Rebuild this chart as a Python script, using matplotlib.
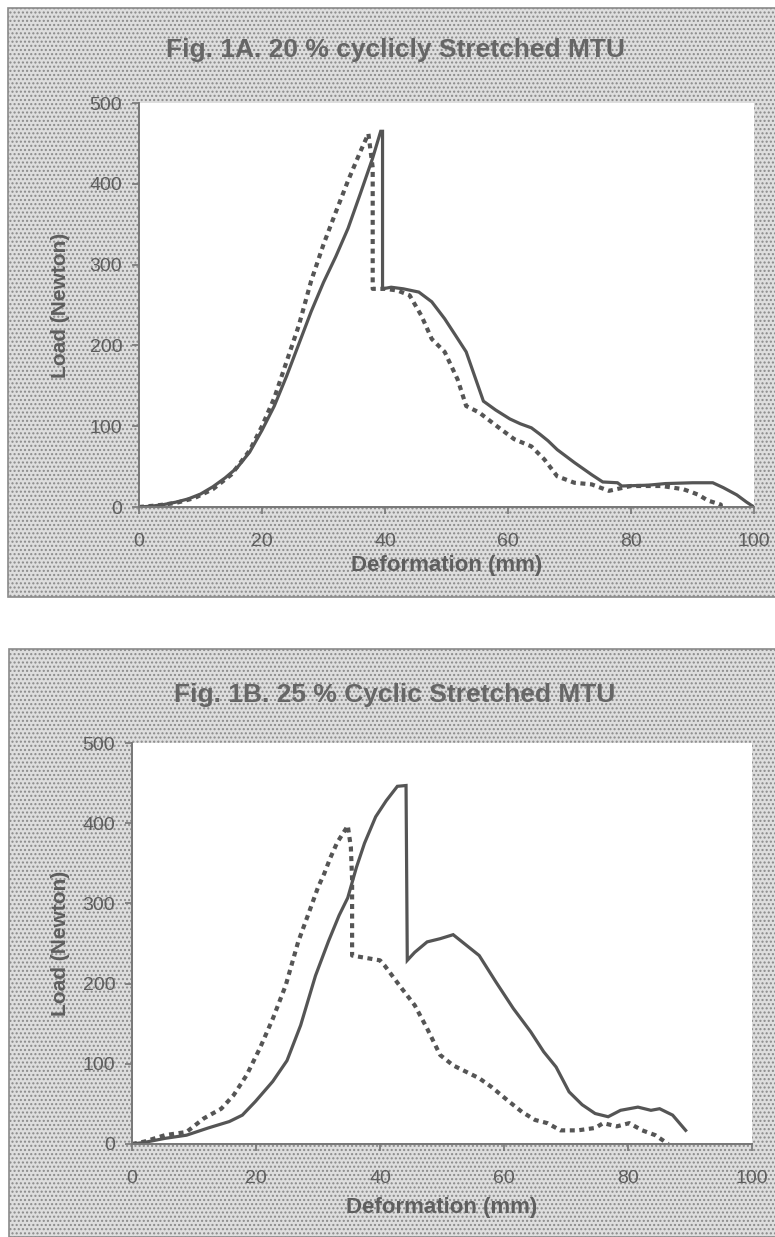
import matplotlib
matplotlib.use("Agg")
import matplotlib.pyplot as plt
from matplotlib.patches import Rectangle

plt.rcParams['font.family'] = ['Liberation Sans', 'DejaVu Sans']
plt.rcParams['hatch.color'] = '#b2b2b2'
plt.rcParams['hatch.linewidth'] = 1.0

# Fig 1A - 20 % cyclicly stretched
a_solid_x = [0, 2, 4, 6, 8, 10, 12, 14, 16, 18, 20, 22, 24, 26, 28, 30, 32, 34, 36, 38, 39.3, 39.6,
             39.6, 41, 43, 45.5, 47.6, 49.7, 51.5, 53.2, 56, 58, 60.3, 62, 63.8, 65.2, 66.5, 68,
             70.8, 73.6, 75.4, 77.8, 78.5, 82.8, 85.6, 90, 93.3, 95, 97.2, 98.8, 100]
a_solid_y = [0, 1, 3, 6, 10, 16, 25, 36, 49, 68, 95, 125, 162, 202, 242, 278, 310, 345, 388, 432, 465, 465,
             270, 272, 270, 266, 254, 233, 212, 192, 131, 120, 109, 103, 98, 90, 82, 71,
             55, 40, 31, 30, 26, 27, 29, 30, 30, 24, 15, 6, 0]
a_dot_x = [0, 3, 6, 9, 12, 15, 18, 20, 22, 24, 26, 28, 30, 32, 34, 36, 37.3, 38, 38, 40, 42, 44,
           45.9, 47.6, 49.7, 51.8, 53.2, 55.3, 58.2, 61, 63.8, 65.9, 68, 70.8, 73.6, 76.4, 80, 85,
           88.5, 90, 91, 92.5, 94.6, 94.6]
a_dot_y = [0, 2, 5, 11, 22, 40, 70, 100, 135, 180, 225, 280, 325, 365, 404, 440, 462, 420, 270, 270, 268, 262,
           237, 208, 192, 158, 125, 117, 100, 84, 75, 59, 38, 30, 28, 20, 26, 26,
           22, 18, 15, 8, 3, 0]

# Fig 1B - 25 % cyclic stretched
b_solid_x = [0, 2, 5.3, 8.8, 12.3, 15.7, 17.8, 19.9, 22.7, 25, 27.2, 29.6, 31.7, 33.4, 34.8, 36.2, 37.5,
             39.3, 41, 42.8, 44.2, 44.4, 45.6, 47.6, 49.7, 51.8, 53.9, 56, 58.7, 61.5, 64.3, 66.4,
             68.4, 70.5, 72.6, 74.7, 76.8, 78.8, 81.6, 83.7, 85.1, 87.2, 89.3]
b_solid_y = [0, 2, 7, 11, 20, 28, 36, 53, 78, 104, 148, 210, 253, 285, 307, 345, 375,
             408, 428, 446, 447, 229, 239, 252, 256, 261, 248, 235, 202, 169, 140, 115,
             96, 65, 49, 38, 34, 42, 46, 42, 44, 36, 17]
b_dot_x = [0, 2, 5.3, 8.8, 11.6, 14.4, 16.4, 18.5, 20.6, 22.7, 24.8, 26.8, 28.6, 30, 31, 32, 33.1, 34.5,
           34.8, 35.3, 35.5, 35.5, 40, 40.7, 43.5, 45.6, 47.6, 49.7, 51.8, 53.9, 56, 58, 60.8,
           62.9, 65, 67, 69.1, 71.9, 74.7, 76, 78.2, 80.2, 82.3, 84.4, 86.5]
b_dot_y = [0, 3, 11, 15, 32, 44, 61, 86, 119, 156, 198, 252, 290, 320, 337, 357, 376, 393,
           397, 370, 330, 235, 229, 223, 194, 173, 144, 111, 98, 90, 82, 71, 53,
           40, 30, 26, 17, 17, 20, 26, 22, 26, 17, 11, 0]

titles = ["Fig. 1A. 20 % cyclicly Stretched MTU", "Fig. 1B. 25 % Cyclic Stretched MTU"]

line_col = '#555555'
axis_col = '#777777'
text_col = '#5e5e5e'

fig = plt.figure(figsize=(7.75, 12.37), dpi=100)
fig.patch.set_facecolor('white')

# gray stippled panel backgrounds, kept behind the axes
for (x0, y0, h) in [(8 / 775, (1237 - 597) / 1237, 589 / 1237), (9 / 775, 0.0, (1237 - 649) / 1237)]:
    fig.patches.append(Rectangle((x0, y0), 1.0, h, transform=fig.transFigure,
                                 facecolor='#dedede', edgecolor='#8a8a8a', hatch='....',
                                 linewidth=1.2, zorder=-5))

axA = fig.add_axes([139 / 775, (1237 - 507) / 1237, 615 / 775, 404 / 1237])
axB = fig.add_axes([132 / 775, (1237 - 1144) / 1237, 620 / 775, 401 / 1237])

panels = [
    (axA, a_solid_x, a_solid_y, a_dot_x, a_dot_y, titles[0], 50, -0.112, -0.119),
    (axB, b_solid_x, b_solid_y, b_dot_x, b_dot_y, titles[1], 695, -0.100, -0.132),
]

for ax, sx, sy, dx, dy, title, ty, ylx, xly in panels:
    ax.set_facecolor('white')
    ax.plot(sx, sy, color=line_col, lw=2.3, solid_joinstyle='miter')
    ax.plot(dx, dy, color=line_col, lw=3.0, linestyle=(0, (1.2, 1.1)), dash_capstyle='butt')
    ax.set_xlim(0, 100)
    ax.set_ylim(0, 500)
    ax.set_xticks([0, 20, 40, 60, 80, 100])
    ax.set_yticks([0, 100, 200, 300, 400, 500])
    for s in ['top', 'right']:
        ax.spines[s].set_visible(False)
    for s in ['left', 'bottom']:
        ax.spines[s].set_color(axis_col)
        ax.spines[s].set_linewidth(1.4)
    ax.tick_params(direction='out', length=5, width=1.2, color=axis_col,
                   labelcolor=text_col, labelsize=14)
    ax.tick_params(axis='x', pad=14)
    ax.tick_params(axis='y', pad=7)
    ax.set_xlabel("Deformation (mm)", fontsize=16, fontweight='bold', color=text_col)
    ax.set_ylabel("Load (Newton)", fontsize=15, fontweight='bold', color=text_col)
    ax.xaxis.set_label_coords(0.5, xly)
    ax.yaxis.set_label_coords(ylx, 0.5)
    fig.text(395 / 775, 1 - ty / 1237, title, ha='center', va='center',
             fontsize=19, fontweight='bold', color='#666666')

fig.savefig("out.png", dpi=100)
